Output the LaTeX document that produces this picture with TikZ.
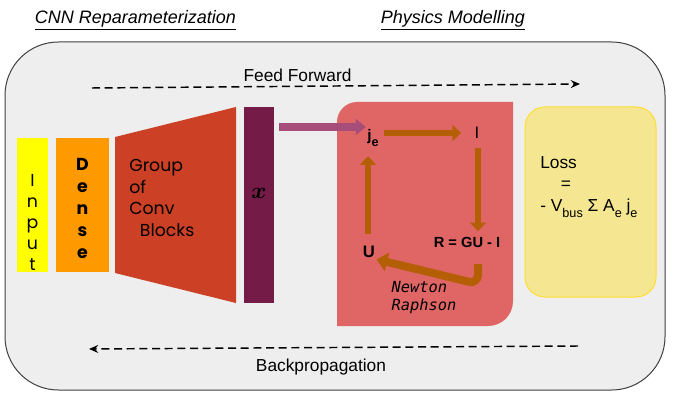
\documentclass[tikz,border=0pt]{standalone}
\usepackage{fontspec}
\setmainfont{Liberation Sans}
\newfontfamily\roundfont{Poppins}
\newfontfamily\nrfont{DejaVu Sans Mono}
\usepackage{bm}
\usetikzlibrary{arrows.meta}

\definecolor{framegray}{HTML}{EEEEEE}
\definecolor{inputyellow}{HTML}{FFFF00}
\definecolor{denseorange}{HTML}{FF9900}
\definecolor{convred}{HTML}{CC4125}
\definecolor{xpurple}{HTML}{741B47}
\definecolor{physred}{HTML}{E06666}
\definecolor{nrbrown}{HTML}{B45F06}
\definecolor{linkpurple}{HTML}{A64D79}
\definecolor{lossfill}{HTML}{F5E791}
\definecolor{lossedge}{HTML}{FFDD33}

% low subscripts as in the drawing
\newcommand{\lowsub}[1]{\raisebox{-4.5pt}{\fontsize{9.5}{10}\selectfont #1}}

\begin{document}
\begin{tikzpicture}[x=0.75pt,y=-0.75pt,
  title/.style={font=\fontsize{13.5}{16}\selectfont\itshape},
  flowtxt/.style={font=\fontsize{13}{16}\selectfont},
  dasharrow/.style={-{Stealth[length=7pt,width=6pt,inset=2.5pt]},line width=1.1pt,dash pattern=on 6pt off 3.5pt},
  brarrow/.style={-{Triangle[length=6.5pt,width=12pt]},line width=5pt,draw=nrbrown},
  blocktxt/.style={font=\roundfont\fontsize{13}{15.75}\selectfont,align=center,inner sep=0pt},
  box/.style={inner sep=0pt,minimum height=100.5pt},
  sym/.style={inner sep=1pt,font=\bfseries\fontsize{11.5}{14}\selectfont}]
\useasboundingbox (0,0) rectangle (675,403);

% titles
\node[title] (cnntitle) at (135.5,20) {\underline{CNN Reparameterization}};
\node[title] (phystitle) at (453,20) {\underline{Physics Modelling}};

% outer frame
\draw[fill=framegray,draw=black!75,line width=0.75pt,rounded corners=40pt] (5,42) rectangle (665,390);

% feed forward / backprop
\coordinate (ffstart) at (92,88);
\coordinate (ffend) at (580,84);
\coordinate (bpstart) at (578,346);
\coordinate (bpend) at (89,349);
\node[flowtxt] (fftxt) at (297.5,75) {Feed Forward};
\node[flowtxt] (bptxt) at (321,367) {Backpropagation};
\draw[dasharrow] (ffstart) -- (ffend);
\draw[dasharrow] (bpstart) -- (bpend);

% CNN part
\node[box,fill=inputyellow,minimum width=23.25pt] (inp) at (32.5,205) {};
\node[blocktxt] (inptxt) at (32.5,222) {I\\n\\p\\u\\t};
\node[box,fill=denseorange,minimum width=39.75pt] (dense) at (82.5,205) {};
\node[blocktxt,font=\roundfont\bfseries\fontsize{13}{16.5}\selectfont] (densetxt) at (82.5,208.5) {D\\e\\n\\s\\e};
\fill[convred] (115,137) -- (236,107) -- (236,303) -- (115,273) -- cycle;
\node[blocktxt,align=left,anchor=west,font=\roundfont\fontsize{13}{16.3}\selectfont] (conv) at (129,198) {Group\\of\\Conv\\\hspace*{8pt}Blocks};
\node[inner sep=0pt,fill=xpurple,minimum width=22.5pt,minimum height=147pt] (xblk) at (259,205) {};
\node[inner sep=0pt] (xsym) at (259,193) {\fontsize{18}{20}\selectfont$\bm{x}$};

% physics part
\fill[physred] (337,326) -- (337,122) .. controls (337,111) and (346,102) .. (357,102)
  -- (513,102) -- (513,301) .. controls (513,315) and (502,326) .. (488,326) -- cycle;
\node[sym] (je) at (373,138) {j\lowsub{\bfseries e}};
\node[sym,font=\fontsize{12.5}{14}\selectfont] (I) at (477,133) {I};
\node[sym,font=\bfseries\fontsize{11}{14}\selectfont] (R) at (467,242) {R = GU - I};
\node[sym,font=\bfseries\fontsize{12.5}{14}\selectfont] (U) at (369,252) {U};
\coordinate (linkstart) at (279,127);
\coordinate (nrtop) at (478,264);
\coordinate (nrbend) at (478,284);
\draw[-{Triangle[length=7.5pt,width=12pt]},line width=6pt,draw=linkpurple] (linkstart) -- (linkstart -| je.west);
\draw[brarrow,shorten <=3pt,shorten >=9pt] (je.east |- I) -- (I.west);
\draw[brarrow,shorten <=6pt,shorten >=3pt] (nrtop |- I.south) -- (nrtop |- R.north);
\draw[brarrow,shorten <=8pt,shorten >=6pt] (U.north -| 368,0) -- (368,0 |- je.south);
\draw[brarrow,line width=6pt,-{Triangle[length=8pt,width=14pt]},rounded corners=7pt] (nrtop) -- (nrbend) -- (U.south east);
\node[inner sep=0pt,align=left,font=\nrfont\itshape\fontsize{11.5}{13.5}\selectfont] (nrtxt) at (424,298) {Newton\\Raphson};

% loss
\node[draw=lossedge,fill=lossfill,line width=0.75pt,rounded corners=15pt,minimum width=98.25pt,minimum height=142.5pt] (lossbox) at (590.5,202) {};
\node[flowtxt,align=left,anchor=west,inner sep=0pt] (losstxt) at (540,187) {Loss\\\hspace*{15.5pt}=\\- V\lowsub{bus} Σ A\lowsub{e} j\lowsub{e}};
\end{tikzpicture}
\end{document}
